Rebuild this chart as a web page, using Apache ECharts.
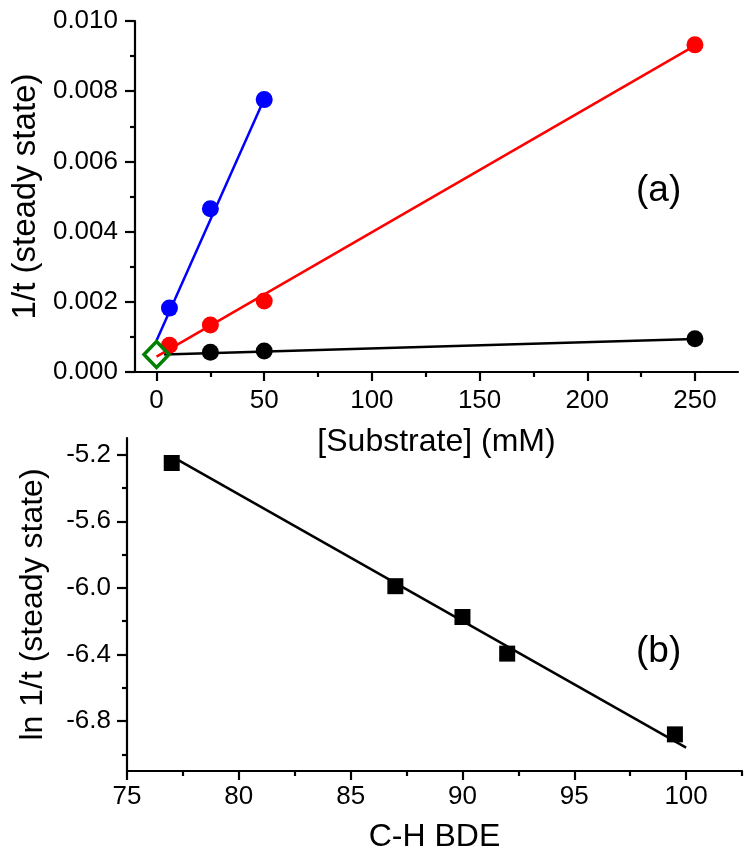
<!DOCTYPE html>
<html>
<head>
<meta charset="utf-8">
<script src="https://cdn.jsdelivr.net/npm/echarts@6/dist/echarts.min.js"></script>
<style>
  html, body { margin: 0; padding: 0; background: #fff; }
  #main { width: 752px; height: 854px; }
</style>
</head>
<body>
<div id="main"></div>
<script>
// panel (a): 1/t vs [Substrate]
var substrateBlue = [6, 25, 50];
var rateBlue = [0.00182, 0.00465, 0.00776];
var substrateRed = [6, 25, 50, 250];
var rateRed = [0.00076, 0.00134, 0.00202, 0.00932];
var substrateBlack = [25, 50, 250];
var rateBlack = [0.00056, 0.0006, 0.00095];
var interceptPoint = [[0, 0.0005]];
// fit lines (end points)
var fitBlue = [[0, 0.0009], [50, 0.00778]];
var fitRed = [[0, 0.00044], [250, 0.0093]];
var fitBlack = [[3.5, 0.0005], [250, 0.00094]];
var ticksA = [0, 50, 100, 150, 200, 250];
var minorTicksA = [25, 75, 125, 175, 225];

// panel (b): ln 1/t vs C-H BDE
var bde = [77, 87, 90, 92, 99.5];
var lnRate = [-5.25, -5.99, -6.175, -6.395, -6.88];
var fitB = [[77, -5.21], [100, -6.96]];
var ticksBx = [75, 80, 85, 90, 95, 100];
var minorTicksBx = [77.5, 82.5, 87.5, 92.5, 97.5, 102.5];
var ticksBy = [-6.8, -6.4, -6.0, -5.6, -5.2];
var minorTicksBy = [-7.0, -6.6, -6.2, -5.8, -5.4];

function pairs(xs, ys) {
    var out = [];
    for (var i = 0; i < xs.length; i++) {
        out.push([xs[i], ys[i]]);
    }
    return out;
}

var font = '"Liberation Sans", Arial, sans-serif';
var lineStyle = { color: '#000', width: 2.2 };

var chart = echarts.init(document.getElementById('main'));
var option = {
    animation: false,
    backgroundColor: '#fff',
    textStyle: { fontFamily: font },
    grid: [
        { left: 135, top: 21, width: 603, height: 351 },
        { left: 127, top: 438, width: 615, height: 334 }
    ],
    xAxis: [
        {
            gridIndex: 0, type: 'value', min: -10, max: 270, position: 'bottom',
            name: '[Substrate] (mM)', nameLocation: 'middle', nameGap: 54,
            nameTextStyle: { fontSize: 32, color: '#000', fontFamily: font },
            axisLine: { show: true, onZero: false, lineStyle: lineStyle },
            axisTick: { show: true, inside: false, length: 9, lineStyle: lineStyle, customValues: ticksA },
            axisLabel: { fontSize: 26, color: '#000', margin: 16, customValues: ticksA },
            splitLine: { show: false }
        },
        {
            gridIndex: 0, type: 'value', min: -10, max: 270, position: 'bottom',
            axisLine: { show: false },
            axisTick: { show: true, length: 5, lineStyle: lineStyle, customValues: minorTicksA },
            axisLabel: { show: false },
            splitLine: { show: false }
        },
        {
            gridIndex: 1, type: 'value', min: 75, max: 102.5, position: 'bottom',
            name: 'C-H BDE', nameLocation: 'middle', nameGap: 50,
            nameTextStyle: { fontSize: 32, color: '#000', fontFamily: font },
            axisLine: { show: true, onZero: false, lineStyle: lineStyle },
            axisTick: { show: true, length: 9, lineStyle: lineStyle, customValues: ticksBx },
            axisLabel: { fontSize: 26, color: '#000', margin: 13, customValues: ticksBx },
            splitLine: { show: false }
        },
        {
            gridIndex: 1, type: 'value', min: 75, max: 102.5, position: 'bottom',
            axisLine: { show: false },
            axisTick: { show: true, length: 5, lineStyle: lineStyle, customValues: minorTicksBx },
            axisLabel: { show: false },
            splitLine: { show: false }
        }
    ],
    yAxis: [
        {
            gridIndex: 0, type: 'value', min: 0, max: 0.010, interval: 0.002,
            name: '1/t (steady state)', nameLocation: 'middle', nameGap: 92,
            nameTextStyle: { fontSize: 33, color: '#000', fontFamily: font },
            axisLine: { show: true, onZero: false, lineStyle: lineStyle },
            axisTick: { show: true, length: 10, lineStyle: lineStyle },
            minorTick: { show: true, splitNumber: 2, length: 5, lineStyle: lineStyle },
            axisLabel: {
                fontSize: 26, color: '#000', margin: 17,
                formatter: function (v) { return v.toFixed(3); }
            },
            splitLine: { show: false },
            minorSplitLine: { show: false }
        },
        {
            gridIndex: 1, type: 'value', min: -7.1, max: -5.1,
            name: 'ln 1/t (steady state)', nameLocation: 'middle', nameGap: 78,
            nameTextStyle: { fontSize: 32, color: '#000', fontFamily: font },
            axisLine: { show: true, onZero: false, lineStyle: lineStyle },
            axisTick: { show: true, length: 10, lineStyle: lineStyle, customValues: ticksBy },
            axisLabel: {
                fontSize: 26, color: '#000', margin: 16, customValues: ticksBy,
                formatter: function (v) { return v.toFixed(1); }
            },
            splitLine: { show: false }
        },
        {
            gridIndex: 1, type: 'value', min: -7.1, max: -5.1, position: 'left',
            axisLine: { show: false },
            axisTick: { show: true, length: 5, lineStyle: lineStyle, customValues: minorTicksBy },
            axisLabel: { show: false },
            splitLine: { show: false }
        }
    ],
    series: [
        // fit lines
        { type: 'line', xAxisIndex: 0, yAxisIndex: 0, data: fitBlack, showSymbol: false, silent: true,
          lineStyle: { color: '#000', width: 2.5 }, z: 1 },
        { type: 'line', xAxisIndex: 0, yAxisIndex: 0, data: fitRed, showSymbol: false, silent: true,
          lineStyle: { color: '#ff0000', width: 2.5 }, z: 1 },
        { type: 'line', xAxisIndex: 0, yAxisIndex: 0, data: fitBlue, showSymbol: false, silent: true,
          lineStyle: { color: '#0000ff', width: 2.5 }, z: 1 },
        // points
        { type: 'scatter', xAxisIndex: 0, yAxisIndex: 0, data: pairs(substrateBlack, rateBlack),
          symbol: 'circle', symbolSize: 17, itemStyle: { color: '#000', opacity: 1 }, z: 3 },
        { type: 'scatter', xAxisIndex: 0, yAxisIndex: 0, data: pairs(substrateRed, rateRed),
          symbol: 'circle', symbolSize: 17, itemStyle: { color: '#ff0000', opacity: 1 }, z: 3 },
        { type: 'scatter', xAxisIndex: 0, yAxisIndex: 0, data: pairs(substrateBlue, rateBlue),
          symbol: 'circle', symbolSize: 17, itemStyle: { color: '#0000ff', opacity: 1 }, z: 3 },
        { type: 'scatter', xAxisIndex: 0, yAxisIndex: 0, data: interceptPoint,
          symbol: 'diamond', symbolSize: [25, 26],
          itemStyle: { color: 'rgba(0,0,0,0)', borderColor: '#008000', borderWidth: 3.5, opacity: 1 }, z: 4 },
        // panel (b)
        { type: 'line', xAxisIndex: 2, yAxisIndex: 1, data: fitB, showSymbol: false, silent: true,
          lineStyle: { color: '#000', width: 2.5 }, z: 1 },
        { type: 'scatter', xAxisIndex: 2, yAxisIndex: 1, data: pairs(bde, lnRate),
          symbol: 'rect', symbolSize: 16, itemStyle: { color: '#000', opacity: 1 }, z: 3 }
    ],
    graphic: [
        { type: 'text', left: 636, top: 172, style: { text: '(a)', font: '37px ' + font, fill: '#000' } },
        { type: 'text', left: 636, top: 633, style: { text: '(b)', font: '37px ' + font, fill: '#000' } }
    ]
};
chart.setOption(option);
</script>
</body>
</html>
